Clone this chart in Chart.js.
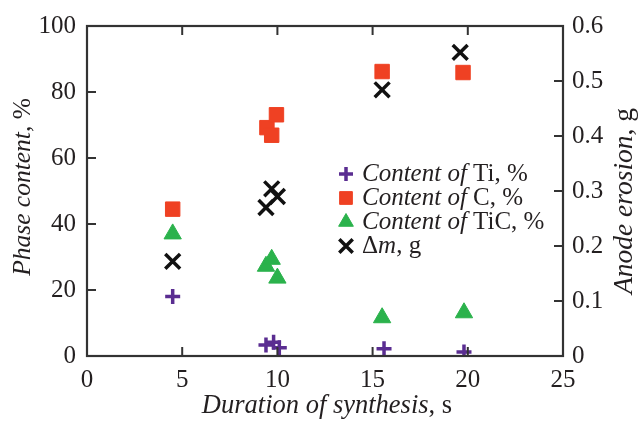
<!DOCTYPE html>
<html>
<head>
<meta charset="utf-8">
<script src="https://cdn.jsdelivr.net/npm/chart.js@4.4.0/dist/chart.umd.min.js"></script>
<style>
  html, body { margin: 0; padding: 0; background: #fff; }
  #wrap { width: 639px; height: 426px; }
</style>
</head>
<body>
<div id="wrap"><canvas id="chart"></canvas></div>
<script>
// duration of synthesis, s
var tiTime = [4.5, 9.4, 9.8, 10.1, 15.6, 19.8];
var tiContent = [18, 3.3, 4.2, 2.5, 2.2, 1.2];

var cTime = [4.5, 9.45, 9.7, 9.95, 15.5, 19.75];
var cContent = [44.5, 69.2, 66.9, 73.1, 86.2, 85.9];

var ticTime = [4.5, 9.4, 9.7, 10.0, 15.5, 19.8];
var ticContent = [37, 27.2, 29.3, 23.6, 11.6, 13.1];

var dmTime = [4.5, 9.4, 9.7, 10.0, 15.5, 19.6];
var dmErosion = [0.172, 0.270, 0.304, 0.290, 0.484, 0.552];

var xTicks = [0, 5, 10, 15, 20, 25];
var yTicks = [0, 20, 40, 60, 80, 100];
var y1Ticks = [0, 0.1, 0.2, 0.3, 0.4, 0.5, 0.6];

var SERIF = '"Liberation Serif", "DejaVu Serif", serif';
var INK = '#231f20';

function pts(xs, ys) {
    return xs.map(function (x, i) { return { x: x, y: ys[i] }; });
}

var seriesStyle = [
    { label: 'Ti', style: 'cross', color: '#5a2d91', r: 7.5, bw: 3.5 },
    { label: 'C', style: 'rect', color: '#ef4123', r: 10.2, bw: 1 },
    { label: 'TiC', style: 'triangle', color: '#2bb24c', r: 10, bw: 1 },
    { label: 'dm', style: 'crossRot', color: '#111111', r: 10.5, bw: 3.5 }
];

// inward tick marks + frame
var frame = {
    id: 'frame',
    afterDatasetsDraw: function (chart) {
        var ctx = chart.ctx, a = chart.chartArea;
        var sx = chart.scales.x, sy = chart.scales.y, sy1 = chart.scales.y1;
        var len = 9;
        ctx.save();
        ctx.strokeStyle = '#333';
        ctx.lineWidth = 2;
        ctx.beginPath();
        xTicks.slice(1, -1).forEach(function (v) {
            var px = sx.getPixelForValue(v);
            ctx.moveTo(px, a.bottom); ctx.lineTo(px, a.bottom - len);
            ctx.moveTo(px, a.top); ctx.lineTo(px, a.top + len);
        });
        yTicks.slice(1, -1).forEach(function (v) {
            var py = sy.getPixelForValue(v);
            ctx.moveTo(a.left, py); ctx.lineTo(a.left + len, py);
        });
        y1Ticks.slice(1, -1).forEach(function (v) {
            var py = sy1.getPixelForValue(v);
            ctx.moveTo(a.right, py); ctx.lineTo(a.right - len, py);
        });
        ctx.stroke();
        ctx.lineWidth = 2.2;
        ctx.strokeRect(a.left, a.top, a.right - a.left, a.bottom - a.top);
        ctx.restore();
    }
};

// draw a run of [text, italic] pieces
function drawRuns(ctx, runs, x, y, size) {
    runs.forEach(function (r) {
        ctx.font = (r[1] ? 'italic ' : '') + size + 'px ' + SERIF;
        ctx.fillText(r[0], x, y);
        x += ctx.measureText(r[0]).width;
    });
    return x;
}
function runsWidth(ctx, runs, size) {
    var w = 0;
    runs.forEach(function (r) {
        ctx.font = (r[1] ? 'italic ' : '') + size + 'px ' + SERIF;
        w += ctx.measureText(r[0]).width;
    });
    return w;
}

var titles = {
    id: 'titles',
    afterDraw: function (chart) {
        var ctx = chart.ctx;
        var size = 26.5;
        ctx.save();
        ctx.fillStyle = INK;
        ctx.textBaseline = 'middle';
        ctx.textAlign = 'left';

        var bottom = [['Duration of synthesis', true], [', s', false]];
        var w = runsWidth(ctx, bottom, size);
        drawRuns(ctx, bottom, 327 - w / 2, 406, size);

        var left = [['Phase content', true], [', %', false]];
        w = runsWidth(ctx, left, 25.5);
        ctx.save();
        ctx.translate(23, 187);
        ctx.rotate(-Math.PI / 2);
        drawRuns(ctx, left, -w / 2, 0, 25.5);
        ctx.restore();

        var right = [['Anode erosion', true], [', g', false]];
        w = runsWidth(ctx, right, 27.5);
        ctx.save();
        ctx.translate(625, 201);
        ctx.rotate(-Math.PI / 2);
        drawRuns(ctx, right, -w / 2, 0, 27.5);
        ctx.restore();

        // legend
        var legendRuns = [
            [['Content of ', true], ['Ti, %', false]],
            [['Content of ', true], ['C, %', false]],
            [['Content of ', true], ['TiC, %', false]],
            [['\u0394', false], ['m', true], [', g', false]]
        ];
        var ly = [174, 198, 222, 246];
        var lsize = [7, 9, 8.5, 9.5];
        legendRuns.forEach(function (runs, i) {
            var s = seriesStyle[i];
            ctx.strokeStyle = s.color;
            ctx.fillStyle = s.color;
            ctx.lineWidth = s.bw;
            Chart.helpers.drawPoint(ctx, { pointStyle: s.style, radius: lsize[i], borderWidth: s.bw, rotation: 0 }, 346, ly[i]);
            ctx.fillStyle = INK;
            drawRuns(ctx, runs, 362, ly[i], 25);
        });
        ctx.restore();
    }
};

function tickFont() {
    return { family: SERIF, size: 25 };
}

new Chart(document.getElementById('chart'), {
    type: 'scatter',
    data: {
        datasets: [
            { data: pts(tiTime, tiContent), yAxisID: 'y' },
            { data: pts(cTime, cContent), yAxisID: 'y' },
            { data: pts(ticTime, ticContent), yAxisID: 'y' },
            { data: pts(dmTime, dmErosion), yAxisID: 'y1' }
        ].map(function (d, i) {
            var s = seriesStyle[i];
            d.label = s.label;
            d.pointStyle = s.style;
            d.pointRadius = s.r;
            d.pointBorderWidth = s.bw;
            d.borderColor = s.color;
            d.backgroundColor = s.color;
            return d;
        })
    },
    options: {
        responsive: true,
        maintainAspectRatio: false,
        animation: false,
        layout: { padding: { top: 22, left: 0, right: 0, bottom: 0 } },
        plugins: { legend: { display: false }, tooltip: { enabled: false } },
        scales: {
            x: {
                type: 'linear', min: 0, max: 25,
                afterBuildTicks: function (s) { s.ticks = xTicks.map(function (v) { return { value: v }; }); },
                afterFit: function (s) { s.height = 70; },
                grid: { display: false, drawTicks: false },
                border: { display: false },
                ticks: { font: tickFont(), color: INK, padding: 9, maxRotation: 0 }
            },
            y: {
                position: 'left', min: 0, max: 100,
                afterBuildTicks: function (s) { s.ticks = yTicks.map(function (v) { return { value: v }; }); },
                afterFit: function (s) { s.width = 87; },
                grid: { display: false, drawTicks: false },
                border: { display: false },
                ticks: { font: tickFont(), color: INK, padding: 11 }
            },
            y1: {
                position: 'right', min: 0, max: 0.6,
                afterBuildTicks: function (s) { s.ticks = y1Ticks.map(function (v) { return { value: v }; }); },
                afterFit: function (s) { s.width = 76; },
                grid: { display: false, drawTicks: false },
                border: { display: false },
                ticks: { font: tickFont(), color: INK, padding: 9,
                    callback: function (v) { return v === 0 ? '0' : v.toFixed(1); } }
            }
        }
    },
    plugins: [frame, titles]
});
</script>
</body>
</html>
